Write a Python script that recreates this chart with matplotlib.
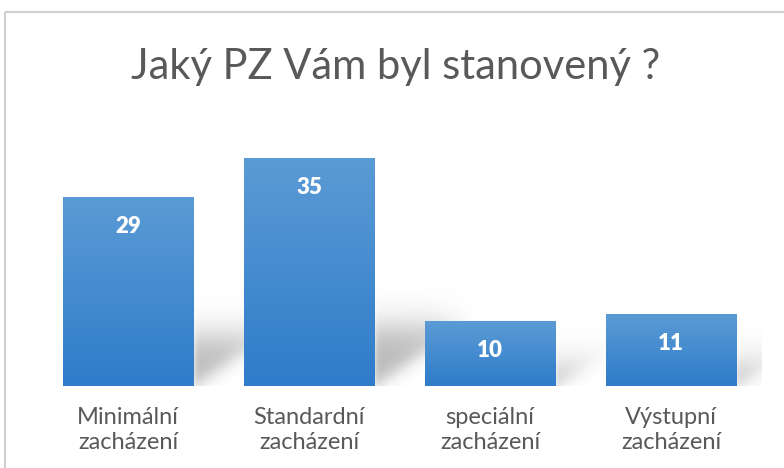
import numpy as np
import matplotlib.pyplot as plt
from matplotlib.patches import Rectangle

categories = ["Minimální\nzacházení", "Standardní\nzacházení", "speciální\nzacházení", "Výstupní\nzacházení"]
values = [29, 35, 10, 11]
title = "Jaký PZ Vám byl stanovený ?"

plt.rcParams['font.family'] = ['Lato', 'DejaVu Sans']

fig = plt.figure(figsize=(7.84, 4.68), dpi=100)

# background panel: soft vertical gradient + thin border
bg = fig.add_axes([0, 0, 1, 1])
bg.set_xlim(0, 784)
bg.set_ylim(468, 0)
bg.axis('off')
grad = np.interp(np.linspace(0, 1, 256),
                 [0, 0.25, 0.6, 0.82, 1.0],
                 [1.0, 0.985, 0.895, 0.925, 0.975])
img = np.dstack([grad, grad, grad])[:, :1, :].repeat(2, axis=1)
bg.imshow(img, extent=[5, 784, 468, 12], aspect='auto', zorder=0)
bg.add_patch(Rectangle((5, 12), 800, 470, fill=False, edgecolor='#d0d0d0', lw=1.5, zorder=1))

ax = fig.add_axes([37.5 / 784, 82 / 468, 724 / 784, 260 / 468])
ax.patch.set_alpha(0)
x = np.arange(len(values))
width = 0.72
ymax = 40
bars = ax.bar(x, values, width=width, color='none', edgecolor='none')

# soft shadows cast behind each bar (built from the bar geometry)
gx = np.linspace(-0.5, len(values) - 0.5, 800)
gy = np.linspace(0, ymax, 400)
GX, GY = np.meshgrid(gx, gy)
alpha = np.zeros_like(GX)
sig = lambda z: 1 / (1 + np.exp(-z))
for b in bars:
    xr, h = b.get_x() + b.get_width(), b.get_height()
    d = GX - xr
    y_top = 0.26 * h
    y_low = 18.9 * d
    a = 0.28 * sig((GY - y_low) / 0.9) * sig((y_top - GY) / 1.6) * sig(d / 0.01) * sig((0.45 - d) / 0.06)
    alpha = np.maximum(alpha, a)
shadow = np.zeros(GX.shape + (4,))
shadow[..., 3] = alpha
ax.imshow(shadow, extent=[gx[0], gx[-1], 0, ymax], origin='lower', aspect='auto', zorder=1)

# gradient fill for each bar
t = np.linspace(0, 1, 128)[:, None, None]
top = np.array([0x5b, 0x9b, 0xd5]) / 255
bot = np.array([0x2f, 0x7c, 0xca]) / 255
bar_img = top * (1 - t) + bot * t
for b in bars:
    x0, w, h = b.get_x(), b.get_width(), b.get_height()
    ax.imshow(bar_img, extent=[x0, x0 + w, 0, h], aspect='auto', zorder=2)
    ax.text(x0 + w / 2, h - 4.5, str(int(h)), ha='center', va='center',
            color='white', fontsize=16, fontweight='heavy', zorder=3)

ax.set_xlim(-0.5, len(values) - 0.5)
ax.set_ylim(0, ymax)
ax.set_xticks(x)
ax.set_xticklabels(categories, fontsize=17, color='#595959', linespacing=1.25)
ax.tick_params(axis='x', length=0, pad=15)
ax.set_yticks([])
for s in ax.spines.values():
    s.set_visible(False)

fig.text(396 / 784, 1 - 67 / 468, title, ha='center', va='center',
         fontsize=30, color='#595959')

fig.savefig('out.png', dpi=100)
